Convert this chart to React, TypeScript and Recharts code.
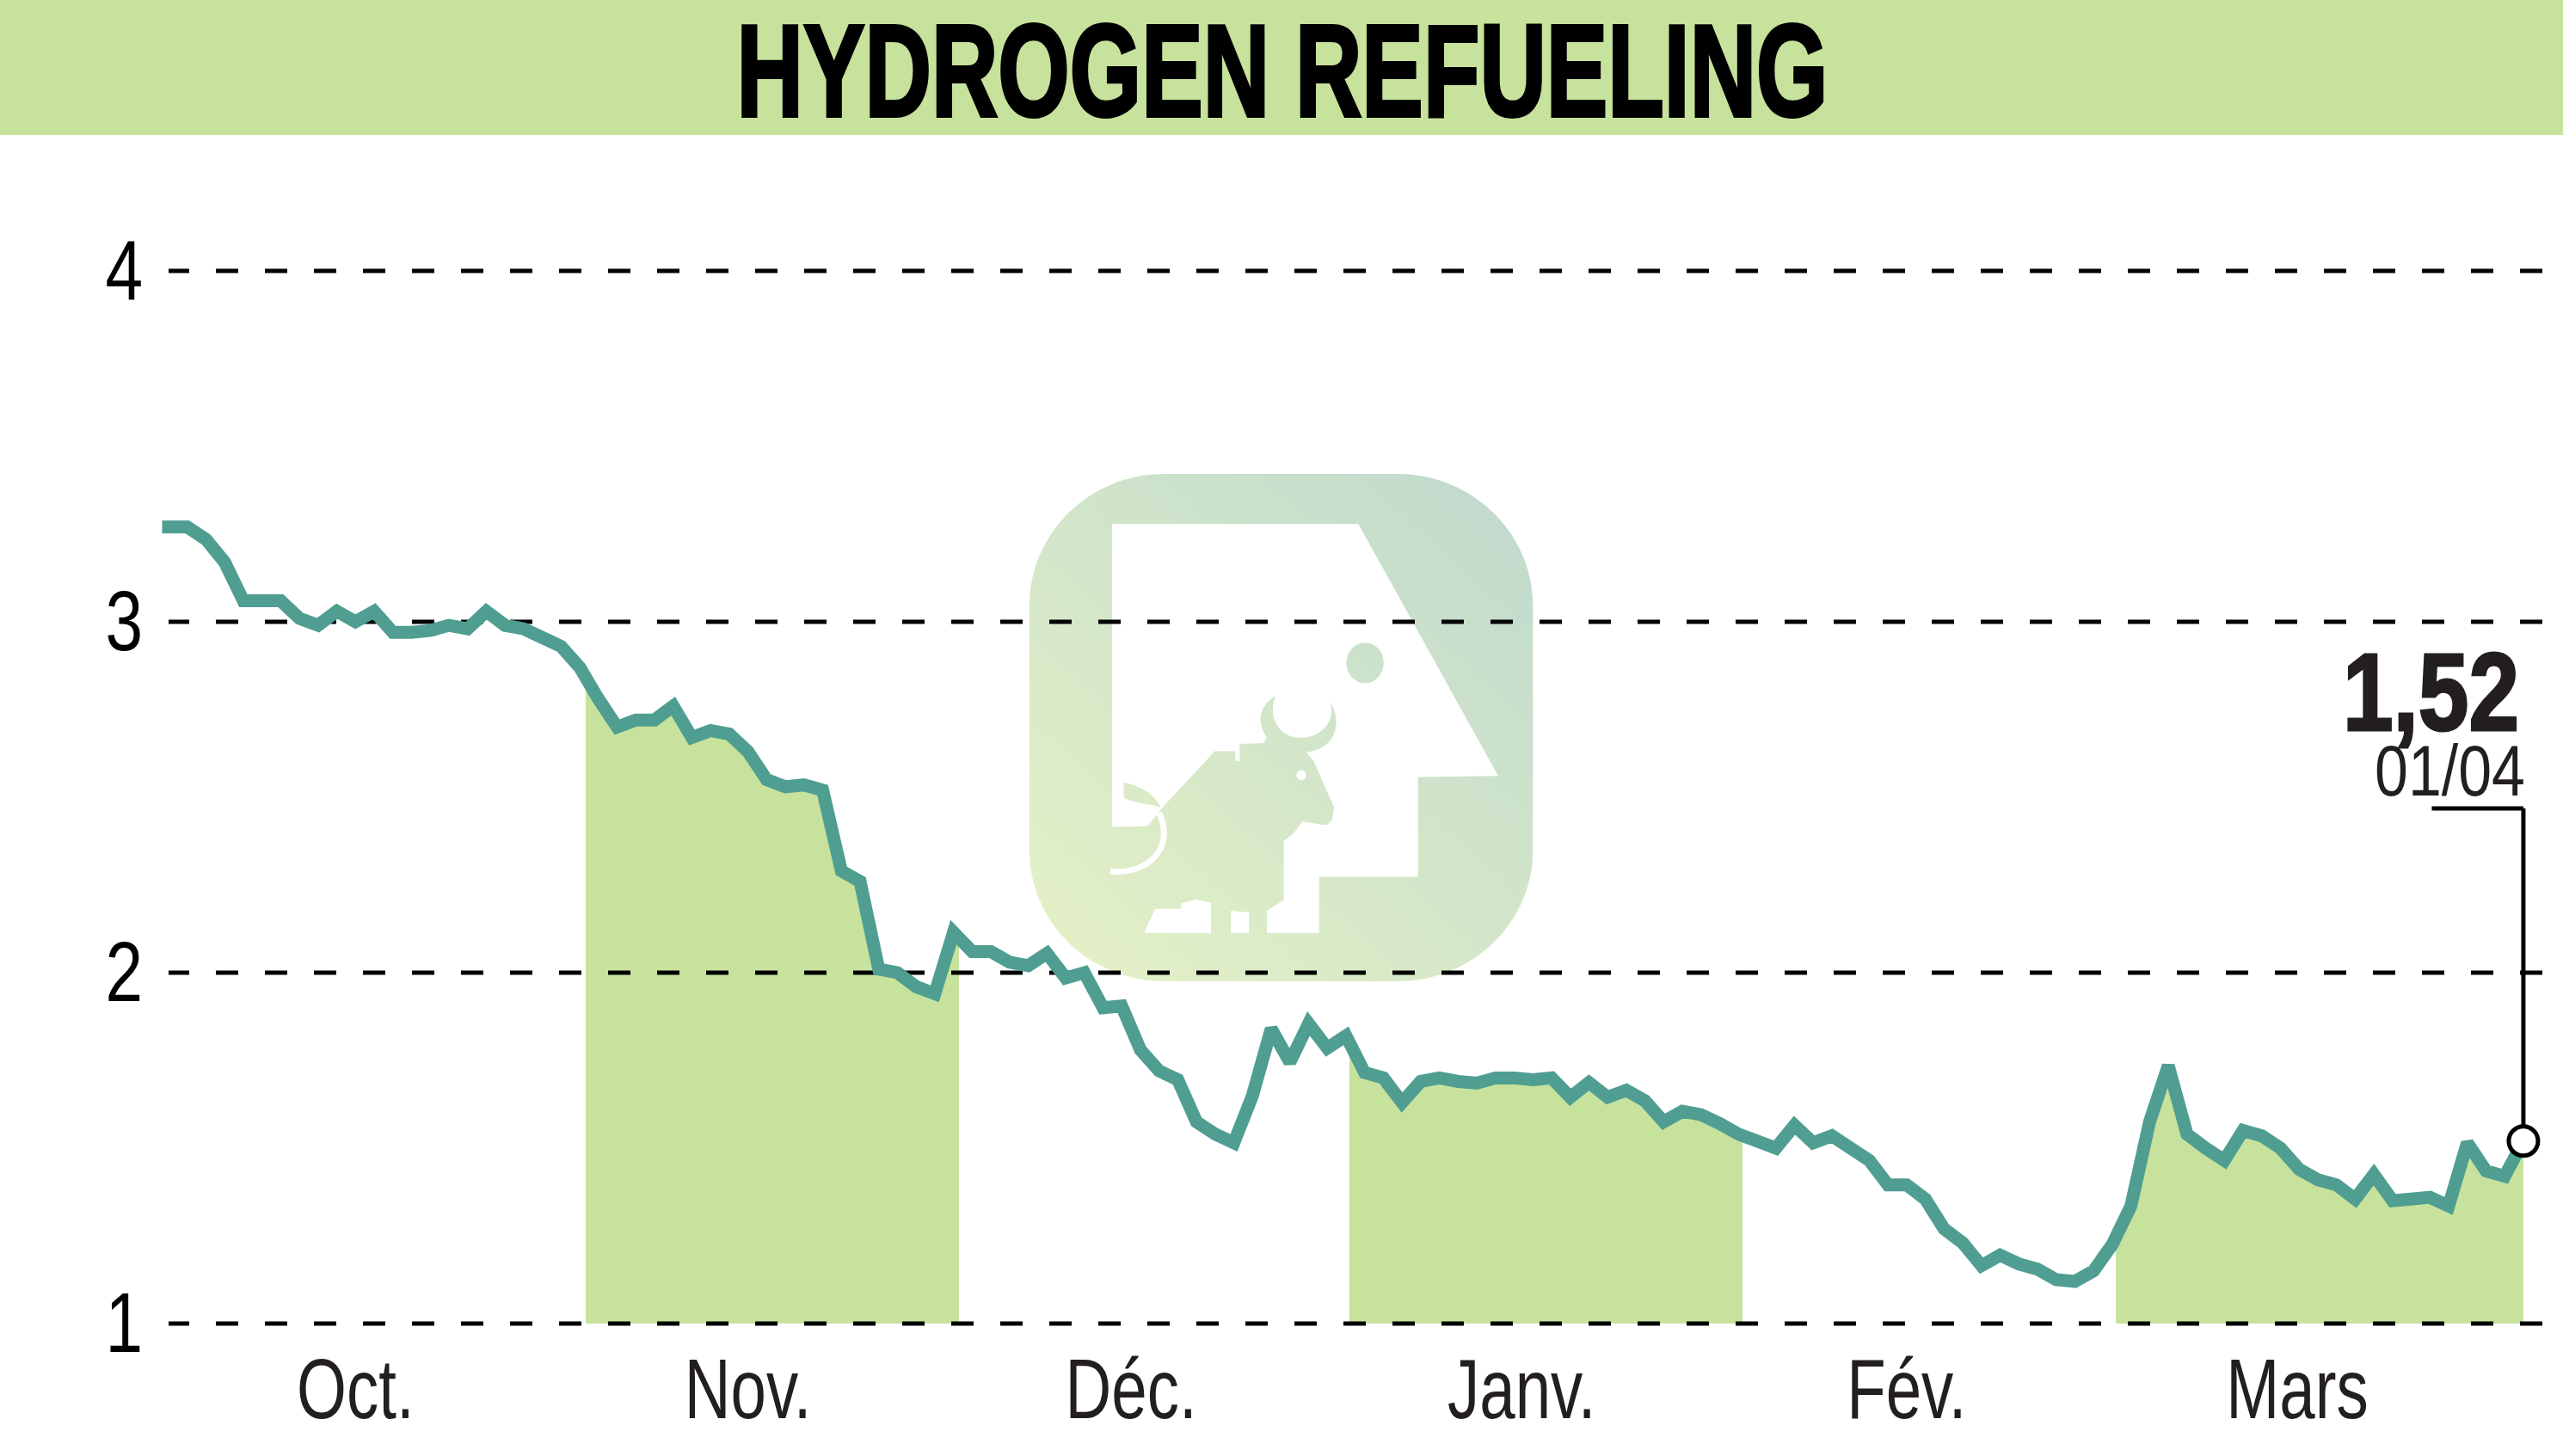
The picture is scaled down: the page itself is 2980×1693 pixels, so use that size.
import React from 'react';
import { ComposedChart, Area, Line, XAxis, YAxis, ReferenceLine, ReferenceDot } from 'recharts';

const prices = [
  3.27, 3.27, 3.235, 3.17, 3.06, 3.06, 3.06, 3.01, 2.99, 3.03, 3.0, 3.03, 2.97, 2.97, 2.975, 2.99, 2.98, 3.03, 2.99, 2.98, 2.955, 2.93, 2.87,
  2.78, 2.7, 2.72, 2.72, 2.76, 2.67, 2.69, 2.68, 2.63, 2.55, 2.53, 2.535, 2.52, 2.29, 2.26, 2.01, 2.0, 1.96, 1.94, 2.115,
  2.06, 2.06, 2.03, 2.02, 2.055, 1.985, 2.0, 1.9, 1.905, 1.78, 1.72, 1.695, 1.575, 1.54, 1.515, 1.65, 1.84, 1.745, 1.855, 1.785, 1.82,
  1.715, 1.7, 1.63, 1.69, 1.7, 1.69, 1.685, 1.7, 1.7, 1.695, 1.7, 1.645, 1.687, 1.645, 1.665, 1.635, 1.575, 1.605, 1.595, 1.57,
  1.54, 1.52, 1.5, 1.565, 1.515, 1.535, 1.5, 1.465, 1.395, 1.395, 1.355, 1.27, 1.23, 1.165, 1.195, 1.17, 1.155, 1.125, 1.12, 1.15,
  1.225, 1.335, 1.575, 1.735, 1.54, 1.5, 1.465, 1.55, 1.535, 1.5, 1.44, 1.41, 1.395, 1.355, 1.425, 1.35, 1.355, 1.36, 1.335, 1.515, 1.435, 1.42, 1.52,
];
const monthLabels = ['Oct.', 'Nov.', 'Déc.', 'Janv.', 'Fév.', 'Mars'];
const monthTicks = [10, 31, 51.5, 72.4, 93, 113.9];
// session positions where the green bands start and stop
const bandEdges = [22.3, 42.3, 63.2, 84.2, 104.2, 126];
const priceTicks = [1, 2, 3, 4];
const lastPrice = 1.52;
const lastSession = 126;
const calloutTop = 2.468;
const calloutLeft = 121.1;

const chartData = prices.map((price, session) => ({ session, price }));

const NARROW = '"Liberation Sans Narrow", "Liberation Sans", sans-serif';
const GREEN = '#c7e29c';
const TEAL = '#4f9e91';
const INK = '#231f20';

function MonthTick({ x, y, payload }: any) {
  const label = monthLabels[monthTicks.indexOf(payload.value)];
  return (
    <text transform={`translate(${x},${y + 102}) scale(0.76,1)`} textAnchor="middle" fontFamily={NARROW} fontSize={98} fill={INK}>
      {label}
    </text>
  );
}

function PriceTick({ x, y, payload }: any) {
  return (
    <text transform={`translate(${x},${y + 33}) scale(0.8,1)`} textAnchor="end" fontFamily={NARROW} fontSize={98} fill="#000">
      {payload.value}
    </text>
  );
}

function Logo() {
  return (
    <svg
      style={{ position: 'absolute', left: 1150, top: 520 }}
      width={680}
      height={650}
      viewBox="0 0 1568 1568"
      preserveAspectRatio="none"
    >
      <defs>
        <linearGradient id="logoFill" gradientUnits="userSpaceOnUse" x1="108" y1="1498" x2="1458" y2="75">
          <stop offset="0" stopColor="#e6f2c6" />
          <stop offset="1" stopColor="#bfd9cd" />
        </linearGradient>
      </defs>
      <path
        d="M470 75 H1095 C1295 75 1458 241 1458 445 V1130 C1458 1334 1295 1498 1095 1498 H470 C270 1498 108 1334 108 1130 V445 C108 241 270 75 470 75 Z"
        fill="url(#logoFill)"
      />
      <path d="M330 215 H990 L1365 922 L1150 925 V1205 H885 V1363 H415 L445 1295 L460 1065 H330 Z" fill="#fff" />
      <path
        d="M330 1065 L425 1063 L465 1010 L605 853 H660 V880 H672 V832 L735 830 L745 815 C715 770 725 725 768 698 C745 760 780 815 835 815 C890 815 930 770 915 715 C950 775 925 850 850 855 L870 880 L925 1010 L920 1045 L905 1060 L840 1050 L815 1085 L790 1105 V1270 L745 1300 V1363 H697 V1305 L648 1300 V1363 H595 V1278 L555 1268 L515 1280 V1295 H445 L415 1363 H330 Z"
        fill="url(#logoFill)"
      />
      <path d="M325 1190 C430 1200 500 1120 455 1025" fill="none" stroke="#fff" strokeWidth="16" />
      <path d="M360 940 C410 950 445 975 460 1010 C430 1000 395 1000 362 985 Z" fill="url(#logoFill)" />
      <ellipse cx="837" cy="920" rx="13" ry="14" fill="#fff" />
      <ellipse cx="1008" cy="605" rx="50" ry="57" fill="url(#logoFill)" />
    </svg>
  );
}

export default function App() {
  return (
    <div style={{ position: 'relative', width: 2980, height: 1693, overflow: 'hidden', background: '#fff' }}>
      <style>{'body{margin:0}'}</style>
      <Logo />
      <ComposedChart
        style={{ position: 'absolute', left: 0, top: 0 }}
        width={2980}
        height={1693}
        data={chartData}
        margin={{ top: 315, right: 0, bottom: 0, left: 0 }}
      >
        <defs>
          <linearGradient id="monthBands" x1="0" y1="0" x2="1" y2="0">
            {bandEdges.flatMap((edge, i) => {
              const on = i % 2 === 0;
              return [
                <stop key={`${i}a`} offset={edge / lastSession} stopColor={GREEN} stopOpacity={on ? 0 : 1} />,
                <stop key={`${i}b`} offset={edge / lastSession} stopColor={GREEN} stopOpacity={on ? 1 : 0} />,
              ];
            })}
          </linearGradient>
        </defs>
        <rect x={0} y={0} width={2980} height={157} fill={GREEN} />
        <text x={1491} y={135} textAnchor="middle" fontFamily={NARROW} fontWeight="bold" fontSize={152} textLength={1269} lengthAdjust="spacingAndGlyphs" fill="#000" stroke="#000" strokeWidth={4}>
          HYDROGEN REFUELING
        </text>
        <XAxis
          dataKey="session"
          type="number"
          domain={[0, 128.12]}
          ticks={monthTicks}
          height={154}
          axisLine={false}
          tickLine={false}
          interval={0}
          tick={<MonthTick />}
        />
        <YAxis
          type="number"
          domain={[1, 4]}
          ticks={priceTicks}
          width={196}
          axisLine={false}
          tickLine={false}
          tickMargin={24}
          tick={<PriceTick />}
        />
        <Area dataKey="price" type="linear" fill="url(#monthBands)" fillOpacity={1} stroke="none" dot={false} activeDot={false} isAnimationActive={false} />
        {priceTicks.map((tick) => (
          <ReferenceLine key={tick} y={tick} stroke="#000" strokeWidth={5} strokeDasharray="26 31" strokeDashoffset={2} />
        ))}
        <Line dataKey="price" type="linear" stroke={TEAL} strokeWidth={15} strokeLinecap="square" strokeLinejoin="miter" strokeMiterlimit={2} dot={false} activeDot={false} isAnimationActive={false} />
        <ReferenceLine
          segment={[
            { x: calloutLeft, y: calloutTop },
            { x: lastSession, y: calloutTop },
          ]}
          stroke="#000"
          strokeWidth={5}
        />
        <ReferenceLine
          segment={[
            { x: lastSession, y: calloutTop },
            { x: lastSession, y: lastPrice },
          ]}
          stroke="#000"
          strokeWidth={5}
        />
        <ReferenceDot x={lastSession} y={lastPrice} r={17} fill="#fff" stroke="#000" strokeWidth={5} />
        <text x={2929} y={849} textAnchor="end" fontFamily={NARROW} fontWeight="bold" fontSize={128} textLength={205} lengthAdjust="spacingAndGlyphs" fill={INK} stroke={INK} strokeWidth={3}>
          1,52
        </text>
        <text x={2936} y={925} textAnchor="end" fontFamily={NARROW} fontSize={84} textLength={175} lengthAdjust="spacingAndGlyphs" fill={INK}>
          01/04
        </text>
      </ComposedChart>
    </div>
  );
}
